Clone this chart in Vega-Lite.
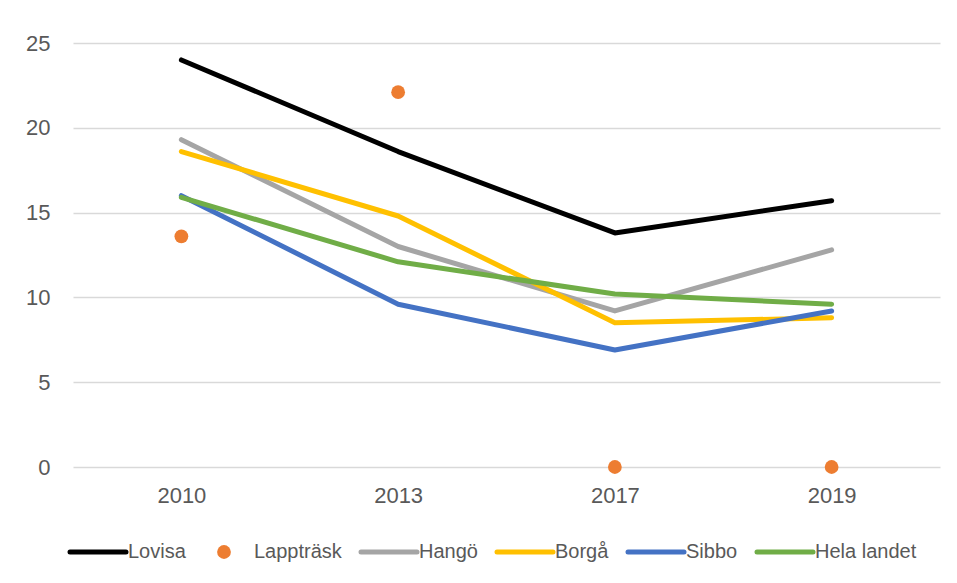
{
  "$schema": "https://vega.github.io/schema/vega-lite/v6.json",
  "autosize": "none",
  "width": 867,
  "height": 424,
  "padding": {"left": 73, "top": 43, "right": 17, "bottom": 116},
  "background": "white",
  "config": {
    "view": {"stroke": null},
    "font": "Liberation Sans",
    "axis": {"labelFont": "Liberation Sans", "labelFontSize": 22, "labelColor": "#595959", "domain": false, "ticks": false, "title": null},
    "legend": {
      "orient": "none",
      "direction": "horizontal",
      "legendX": -4,
      "legendY": 499,
      "symbolSize": 3136,
      "symbolStrokeWidth": 5,
      "symbolType": "stroke",
      "symbolOffset": 19,
      "labelFont": "Liberation Sans",
      "labelFontSize": 20,
      "labelColor": "#595959",
      "labelOffset": 20,
      "columnPadding": 9,
      "title": null
    }
  },
  "data": {
    "values": [
      {"year": "2010", "series": "Lovisa", "value": 24.0},
      {"year": "2013", "series": "Lovisa", "value": 18.6},
      {"year": "2017", "series": "Lovisa", "value": 13.8},
      {"year": "2019", "series": "Lovisa", "value": 15.7},
      {"year": "2010", "series": "Lappträsk", "value": 13.6},
      {"year": "2013", "series": "Lappträsk", "value": 22.1},
      {"year": "2017", "series": "Lappträsk", "value": 0},
      {"year": "2019", "series": "Lappträsk", "value": 0},
      {"year": "2010", "series": "Hangö", "value": 19.3},
      {"year": "2013", "series": "Hangö", "value": 13.0},
      {"year": "2017", "series": "Hangö", "value": 9.2},
      {"year": "2019", "series": "Hangö", "value": 12.8},
      {"year": "2010", "series": "Borgå", "value": 18.6},
      {"year": "2013", "series": "Borgå", "value": 14.8},
      {"year": "2017", "series": "Borgå", "value": 8.5},
      {"year": "2019", "series": "Borgå", "value": 8.8},
      {"year": "2010", "series": "Sibbo", "value": 16.0},
      {"year": "2013", "series": "Sibbo", "value": 9.6},
      {"year": "2017", "series": "Sibbo", "value": 6.9},
      {"year": "2019", "series": "Sibbo", "value": 9.2},
      {"year": "2010", "series": "Hela landet", "value": 15.9},
      {"year": "2013", "series": "Hela landet", "value": 12.1},
      {"year": "2017", "series": "Hela landet", "value": 10.2},
      {"year": "2019", "series": "Hela landet", "value": 9.6}
    ]
  },
  "encoding": {
    "x": {"field": "year", "type": "ordinal", "scale": {"type": "point", "padding": 0.5}, "axis": {"labelAngle": 0, "labelPadding": 18, "grid": false}},
    "y": {"field": "value", "type": "quantitative", "scale": {"domain": [0, 25], "nice": false}, "axis": {"values": [0, 5, 10, 15, 20, 25], "grid": true, "gridColor": "#D9D9D9", "gridWidth": 1.5, "labelPadding": 23}},
    "color": {
      "field": "series", "type": "nominal",
      "scale": {"domain": ["Lovisa", "Lappträsk", "Hangö", "Borgå", "Sibbo", "Hela landet"], "range": ["#000000", "#ED7D31", "#A5A5A5", "#FFC000", "#4472C4", "#70AD47"]},
      "legend": {
        "encode": {
          "symbols": {
            "update": {
              "shape": {"signal": "datum.value === 'Lappträsk' ? 'circle' : 'stroke'"},
              "size": {"signal": "datum.value === 'Lappträsk' ? 190 : 3136"},
              "fill": {"signal": "datum.value === 'Lappträsk' ? '#ED7D31' : 'transparent'"},
              "strokeWidth": {"signal": "datum.value === 'Lappträsk' ? 0 : 5"},
              "strokeCap": {"value": "round"},
              "opacity": {"value": 1}
            }
          }
        }
      }
    }
  },
  "layer": [
    {
      "transform": [{"filter": "datum.series !== 'Lappträsk'"}],
      "mark": {"type": "line", "strokeWidth": 5, "strokeCap": "round", "strokeJoin": "round"}
    },
    {
      "transform": [{"filter": "datum.series === 'Lappträsk'"}],
      "mark": {"type": "point", "filled": true, "size": 190, "opacity": 1, "shape": "circle"}
    }
  ]
}
